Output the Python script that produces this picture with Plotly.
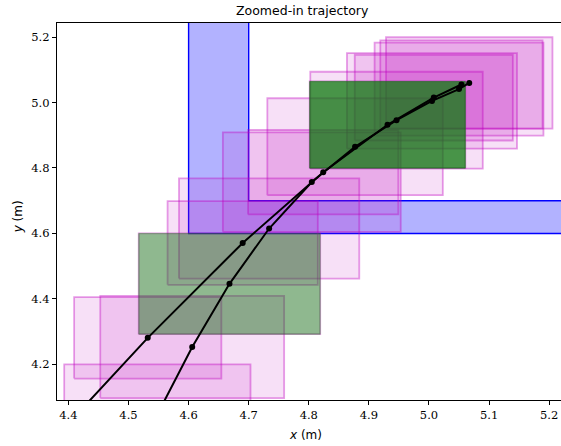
import plotly.graph_objects as go

# ---- data ----
# trajectory A (smaller footprint boxes)
traj_a_x = [4.355, 4.532, 4.690, 4.824, 4.931, 5.008, 5.054]
traj_a_y = [3.930, 4.281, 4.571, 4.787, 4.932, 5.015, 5.055]
box_a_w = [0.240, 0.245, 0.250, 0.250, 0.259, 0.263, 0.270]
box_a_h = [0.245, 0.249, 0.256, 0.258, 0.265, 0.262, 0.270]
green_a = 4

# trajectory B (larger footprint boxes)
traj_b_x = [4.548, 4.606, 4.668, 4.734, 4.805, 4.877, 4.946, 5.005, 5.050, 5.067]
traj_b_y = [4.047, 4.253, 4.446, 4.615, 4.757, 4.865, 4.946, 5.005, 5.041, 5.060]
box_b_w = [0.310, 0.306, 0.302, 0.300, 0.296, 0.292, 0.287, 0.283, 0.281, 0.277]
box_b_h = [0.306, 0.312, 0.308, 0.306, 0.304, 0.296, 0.296, 0.292, 0.284, 0.279]
green_b = 2

# L-shaped obstacle
obs_x = [4.6, 4.6, 6.0, 6.0, 4.7, 4.7, 4.6]
obs_y = [6.0, 4.6, 4.6, 4.7, 4.7, 6.0, 6.0]

x_range = [4.381, 5.2197]
y_range = [4.091, 5.243]
x_ticks = [4.4, 4.5, 4.6, 4.7, 4.8, 4.9, 5.0, 5.1, 5.2]
y_ticks = [4.2, 4.4, 4.6, 4.8, 5.0, 5.2]

MAG_FILL = "rgba(191,0,191,0.12)"
MAG_EDGE = "rgba(191,0,191,0.38)"

fig = go.Figure()


def rect(cx, cy, w, h, fill, edge, lw):
    xs = [cx - w / 2, cx + w / 2, cx + w / 2, cx - w / 2, cx - w / 2]
    ys = [cy - h / 2, cy - h / 2, cy + h / 2, cy + h / 2, cy - h / 2]
    fig.add_trace(go.Scatter(x=xs, y=ys, mode="lines", fill="toself",
                             fillcolor=fill, line=dict(color=edge, width=lw),
                             hoverinfo="skip", showlegend=False))


# obstacle
fig.add_trace(go.Scatter(x=obs_x, y=obs_y, mode="lines", fill="toself",
                         fillcolor="rgba(0,0,255,0.3)",
                         line=dict(color="blue", width=1.4),
                         hoverinfo="skip", showlegend=False))

# footprint boxes
for i in range(len(traj_a_x)):
    rect(traj_a_x[i], traj_a_y[i], box_a_w[i], box_a_h[i], MAG_FILL, MAG_EDGE, 1.8)
for i in range(len(traj_b_x)):
    rect(traj_b_x[i], traj_b_y[i], box_b_w[i], box_b_h[i], MAG_FILL, MAG_EDGE, 1.8)

# highlighted boxes
rect(traj_b_x[green_b], traj_b_y[green_b], box_b_w[green_b], box_b_h[green_b],
     "rgba(0,128,0,0.42)", "rgba(0,128,0,0.3)", 1)
rect(traj_a_x[green_a], traj_a_y[green_a], box_a_w[green_a], box_a_h[green_a],
     "rgba(0,128,0,0.7)", "rgba(0,128,0,0.5)", 1)

# trajectories
for tx, ty in ((traj_a_x, traj_a_y), (traj_b_x, traj_b_y)):
    fig.add_trace(go.Scatter(x=tx, y=ty, mode="lines+markers",
                             line=dict(color="black", width=2),
                             marker=dict(color="black", size=6),
                             hoverinfo="skip", showlegend=False))

tick_font = dict(family="DejaVu Serif", size=11.5, color="black")
fig.update_xaxes(range=x_range, tickvals=x_ticks,
                 ticktext=[f"{v:.1f}" for v in x_ticks], automargin=False,
                 showgrid=False, zeroline=False, showline=True, mirror=True,
                 linecolor="black", linewidth=1.2, ticks="outside",
                 ticklen=4, tickcolor="black", tickfont=tick_font)
fig.update_yaxes(range=y_range, tickvals=y_ticks,
                 ticktext=[f"{v:.1f}" for v in y_ticks], automargin=False,
                 showgrid=False, zeroline=False, showline=True, mirror=False,
                 linecolor="black", linewidth=1.2, ticks="outside",
                 ticklen=4, tickcolor="black", tickfont=tick_font)

lab_font = dict(family="DejaVu Sans", size=12, color="black")
fig.update_layout(
    width=561, height=446,
    margin=dict(l=57, r=0, t=23, b=46),
    plot_bgcolor="white", paper_bgcolor="white",
    annotations=[
        dict(text="Zoomed-in trajectory", xref="paper", yref="paper",
             x=0.487, y=1.034, xanchor="center", yanchor="middle",
             showarrow=False, font=dict(family="DejaVu Sans", size=12.5, color="black")),
        dict(text="<i>x</i> (m)", xref="paper", yref="paper",
             x=0.494, y=-0.093, xanchor="center", yanchor="middle",
             showarrow=False, font=lab_font),
        dict(text="<i>y</i> (m)", xref="paper", yref="paper",
             x=-0.077, y=0.485, xanchor="center", yanchor="middle",
             textangle=-90, showarrow=False, font=lab_font),
    ],
)

fig.write_html("out.html", config={"displayModeBar": False},
               post_script="document.body.style.margin='0';document.body.style.overflow='hidden';")
